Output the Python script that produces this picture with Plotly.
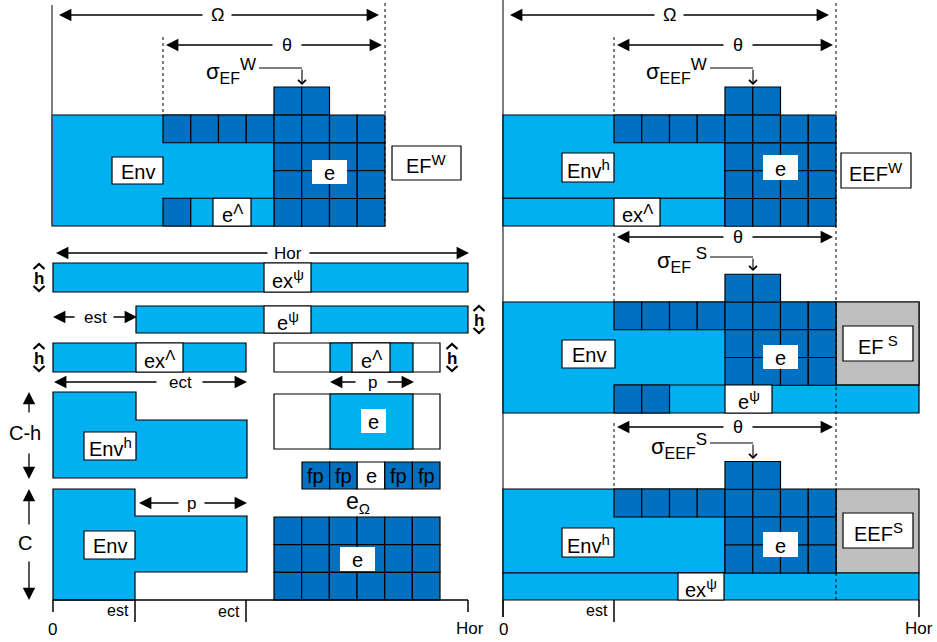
import plotly.graph_objects as go

# ---------------- data / labels ----------------
LIGHT = "#00B0F0"
DARK = "#0070C0"
GRAY = "#BFBFBF"
FONT = "Liberation Sans, Arial, sans-serif"


def sup(s, px=15):
    return f"<sup><span style='font-size:{px}px'>{s}</span></sup>"


def sub(s, px=16):
    return f"<sub><span style='font-size:{px}px'>{s}</span></sub>"


panel_labels = ["EF" + sup("W"), "EEF" + sup("W"), "EF" + sup(" S"), "EEF" + sup("S")]
sigma_labels = ["σ" + sub("EF") + sup("W", 17), "σ" + sub("EEF") + sup("W", 17),
                "σ" + sub("EF") + sup(" S", 17), "σ" + sub("EEF") + sup("S", 17)]
env_labels = ["Env", "Env" + sup("h"), "Env", "Env" + sup("h")]
bottom_labels = ["e" + sup("Λ"), "ex" + sup("Λ"), "e" + sup("ψ"), "ex" + sup("ψ")]
fp_labels = ["fp", "fp", "e", "fp", "fp"]
axis_left = ["0", "est", "ect", "Hor"]
axis_right = ["0", "est", "Hor"]

top_row_cells = 8      # dark cells in first row of window
block_cols = 4         # dark block columns
bump_cols = 2          # cells above the row
CELL = 27.75

shapes = []
ann = []


def rect(x0, y0, x1, y1, fill, lw=1.2, lc="black"):
    shapes.append(dict(type="rect", x0=x0, y0=y0, x1=x1, y1=y1, xref="x", yref="y",
                       fillcolor=fill, line=dict(color=lc, width=lw)))


def grid(x0, y0, ncol, nrow, fill, w=CELL, h=CELL):
    for i in range(ncol):
        for j in range(nrow):
            rect(x0 + i * w, y0 + j * h, x0 + (i + 1) * w, y0 + (j + 1) * h, fill)


def line(x0, y0, x1, y1, w=1.2, c="black", dash=None):
    d = dict(color=c, width=w)
    if dash:
        d["dash"] = dash
    shapes.append(dict(type="line", x0=x0, y0=y0, x1=x1, y1=y1, xref="x", yref="y", line=d))


def path(d, fill=None, w=1.2, c="black"):
    s = dict(type="path", path=d, xref="x", yref="y", line=dict(color=c, width=w))
    if fill:
        s["fillcolor"] = fill
    shapes.append(s)


def text(x, y, s, size=20, xanchor="center", yanchor="middle"):
    ann.append(dict(x=x, y=y, xref="x", yref="y", text=s, showarrow=False,
                    xanchor=xanchor, yanchor=yanchor,
                    font=dict(family=FONT, size=size, color="black")))


def box(x0, y0, x1, y1, s, size=20, border=True, fill="white"):
    rect(x0, y0, x1, y1, fill, lw=1.2 if border else 0,
         lc="black" if border else fill)
    text((x0 + x1) / 2, (y0 + y1) / 2 + 1, s, size)


def arrow(hx, hy, tx, ty, head=2, size=1.9, w=1.3):
    ann.append(dict(x=hx, y=hy, ax=tx, ay=ty, xref="x", yref="y", axref="x", ayref="y",
                    text="", showarrow=True, arrowhead=head, arrowsize=size,
                    arrowwidth=w, arrowcolor="black"))


def darrow_h(y, x0, x1, label, lx, g0, g1, size=18):
    arrow(x0, y, g0, y)
    arrow(x1, y, g1, y)
    text(lx, y, label, size)


def darrow_v(x, y0, y1, label, ly, g0, g1, size=20):
    arrow(x, y0, x, g0)
    arrow(x, y1, x, g1)
    text(x - 4, ly, label, size)


def hicon(cx, cy):
    path(f"M{cx-5.5},{cy-8} L{cx},{cy-13} L{cx+5.5},{cy-8}", w=2.2)
    path(f"M{cx-5.5},{cy+9} L{cx},{cy+14} L{cx+5.5},{cy+9}", w=2.2)
    text(cx, cy + 1, "<b>h</b>", 17)


def sigma(right, ly, label, tip_x, tip_y):
    text(right, ly + 3, label, 22, xanchor="right")
    line(right + 1, ly, tip_x, ly, w=1.2)
    arrow(tip_x, tip_y, tip_x, ly, head=4, size=1.4, w=1.1)


# ---------------- left top panel (EF^W) ----------------
ox = 52
est_x = 163
rect(ox, 115, 274, 226, LIGHT)
grid(est_x, 115, top_row_cells, 1, DARK)
grid(274, 143, block_cols, 3, DARK)
grid(274, 87, bump_cols, 1, DARK)
grid(est_x, 198.25, 1, 1, DARK)
rect(190.75, 198.25, 274, 226, LIGHT)
box(213, 198.25, 251, 226, bottom_labels[0])
box(112, 157, 163, 184, env_labels[0])
box(312, 160, 347, 184, "e", border=False)
box(392, 146, 461, 180, panel_labels[0])
line(52, 5, 52, 226, w=1.5, c="#555555")
line(385, 3, 385, 226, w=1, dash="dot")
line(163, 37, 163, 115, w=1, dash="dot")
darrow_h(15, 59, 379, "Ω", 217, 204, 230)
darrow_h(45, 166, 382, "θ", 287, 274, 300)
sigma(258, 68, sigma_labels[0], 302, 85)

# ---------------- right panels ----------------
rx = 503
rest = 614
hor_r = 919
line(rx, 0, rx, 617, w=1.5, c="#555555")

# B1 (EEF^W)
rect(rx, 115, 725, 198.25, LIGHT)
rect(rx, 198.25, 725, 226, LIGHT)
grid(rest, 115, top_row_cells, 1, DARK)
grid(725, 143, block_cols, 3, DARK)
grid(725, 87, bump_cols, 1, DARK)
box(614, 198.25, 660, 226, bottom_labels[1])
box(562, 153, 614, 182, env_labels[1])
box(763, 155, 798, 180, "e", border=False)
box(841, 153, 911, 188, panel_labels[1])
line(614, 37, 614, 115, w=1, dash="dot")
darrow_h(15, 510, 829, "Ω", 669, 656, 682)
darrow_h(45, 617, 833, "θ", 738, 725, 751)
sigma(709, 68, sigma_labels[1], 753, 85)

# B2 (EF^S)
rect(rx, 302, hor_r, 413, LIGHT)
rect(836, 302, hor_r, 385, GRAY)
line(614, 385, hor_r, 385)
grid(rest, 302, top_row_cells, 1, DARK)
grid(725, 329.75, block_cols, 2, DARK)
grid(725, 274.25, bump_cols, 1, DARK)
grid(rest, 385, 2, 1, DARK, h=28)
box(725, 385, 772, 413, bottom_labels[2])
box(562, 340, 615, 368, env_labels[2])
box(763, 345, 798, 369, "e", border=False)
box(843, 326, 913, 361, panel_labels[2])
line(614, 233, 614, 302, w=1, dash="dot")
darrow_h(237, 617, 833, "θ", 738, 725, 751)
sigma(709, 257, sigma_labels[2], 753, 271)

# B3 (EEF^S)
rect(rx, 489, 725, 573, LIGHT)
rect(836, 489, hor_r, 573, GRAY)
rect(rx, 573, hor_r, 600, LIGHT)
grid(rest, 489, top_row_cells, 1, DARK, h=28)
grid(725, 517, block_cols, 2, DARK, h=28)
grid(725, 461.5, bump_cols, 1, DARK)
box(678, 573, 724, 600, bottom_labels[3])
box(562, 528, 614, 557, env_labels[3])
box(763, 532, 798, 557, "e", border=False)
box(843, 513, 913, 548, panel_labels[3])
line(614, 423, 614, 489, w=1, dash="dot")
darrow_h(427, 617, 833, "θ", 738, 725, 751)
sigma(709, 443, sigma_labels[3], 753, 459)
line(836, 3, 836, 600, w=1, dash="dot")

# right axis
line(rx, 600, rx, 617, w=1.5)
line(rest, 600, rest, 622, w=1.5)
line(hor_r, 600, hor_r, 617, w=1.5)
text(rx, 629, axis_right[0], 17)
text(610, 610, axis_right[1], 16, xanchor="right")
text(hor_r, 628, axis_right[2], 17)

# ---------------- left middle: bars ----------------
darrow_h(253, 56, 469, "Hor", 288, 269, 308, 17)
rect(53, 263, 468, 292, LIGHT)
box(264, 263, 311, 292, bottom_labels[3])
hicon(39, 277)

rect(136, 306, 468, 333, LIGHT)
box(264, 306, 311, 333, bottom_labels[2])
arrow(53, 317, 76, 317)
text(95, 317, "est", 17)
arrow(137, 317, 112, 317)
hicon(479, 319)

rect(53, 343, 246, 372, LIGHT)
box(136, 343, 183, 372, bottom_labels[1])
hicon(39, 357)

rect(274, 343, 440, 372, "white")
rect(330, 343, 413, 372, LIGHT)
box(352, 343, 390, 372, bottom_labels[0])
hicon(452, 357)

darrow_h(382, 54, 247, "ect", 180, 158, 201, 17)
darrow_h(382, 330, 414, "p", 372, 357, 386, 17)

# ---------------- left bottom ----------------
darrow_v(29, 392, 479, "C-h", 433, 414, 452)
darrow_v(29, 489, 600, "C", 543, 526, 560)

path("M53,392 L136,392 L136,420 L247,420 L247,478 L53,478 Z", fill=LIGHT)
box(84, 432, 136, 460, env_labels[1])
path("M53,489 L135,489 L135,516 L247,516 L247,572 L135,572 L135,600 L53,600 Z", fill=LIGHT)
box(84, 531, 135, 559, env_labels[0])
darrow_h(503, 139, 247, "p", 191, 180, 203, 17)

rect(274, 394, 440, 449, "white")
rect(330, 394, 413, 449, LIGHT)
box(361, 409, 386, 433, "e", border=False)

fpw = (440 - 302) / len(fp_labels)
for i, lab in enumerate(fp_labels):
    x0 = 302 + i * fpw
    fill = "white" if lab == "e" else DARK
    rect(x0, 462, x0 + fpw, 489, fill)
    text(x0 + fpw / 2, 476, lab, 20)

text(358, 502, "e" + sub("Ω", 15), 23)
grid(274, 517, 6, 3, DARK, w=(440 - 274) / 6, h=(600 - 517) / 3)
box(340, 547, 375, 571, "e", border=False)

# left axis
line(53, 600, 468, 600, w=1.5)
line(53, 600, 53, 612, w=1.5)
line(135, 600, 135, 622, w=1.5)
line(246, 600, 246, 622, w=1.5)
line(468, 600, 468, 612, w=1.5)
text(52, 629, axis_left[0], 17)
text(131, 610, axis_left[1], 16, xanchor="right")
text(242, 611, axis_left[2], 16, xanchor="right")
text(470, 628, axis_left[3], 17)

fig = go.Figure()
fig.update_layout(
    width=937, height=642,
    margin=dict(l=0, r=0, t=0, b=0),
    paper_bgcolor="white", plot_bgcolor="white",
    xaxis=dict(range=[0, 937], visible=False, fixedrange=True),
    yaxis=dict(range=[642, 0], visible=False, fixedrange=True),
    shapes=shapes, annotations=ann, showlegend=False,
)
fig.write_html("out.html", config={"displayModeBar": False},
               post_script="document.body.style.margin='0';document.body.style.overflow='hidden';")
